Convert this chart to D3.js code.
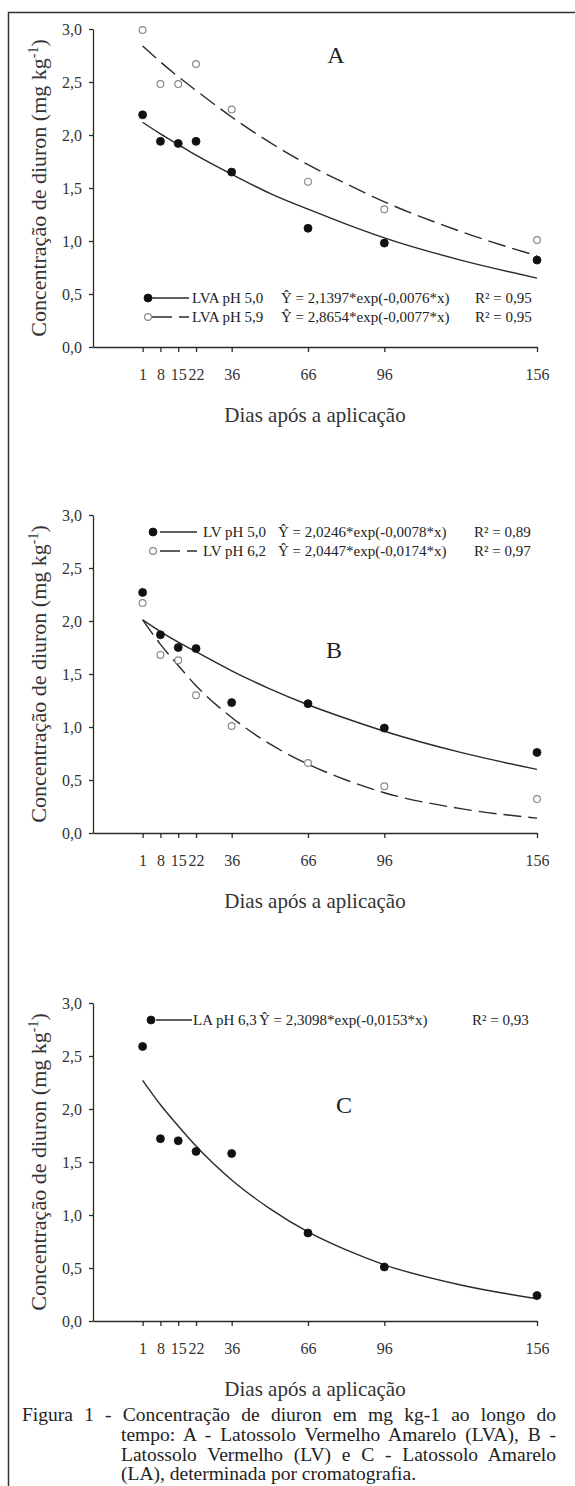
<!DOCTYPE html>
<html>
<head>
<meta charset="utf-8">
<script src="https://cdn.jsdelivr.net/npm/d3@7"></script>
<style>
  body { margin: 0; background: #fff; }
  svg text { font-family: "Liberation Serif", "DejaVu Serif", serif; }
</style>
</head>
<body>
<svg width="575" height="1486"></svg>
<script>
// days of sampling (x ticks)
const days = [1, 8, 15, 22, 36, 66, 96, 156];
const yTicks = [0, 0.5, 1, 1.5, 2, 2.5, 3];

const lvaPh50 = [2.19, 1.94, 1.92, 1.94, 1.65, 1.12, 0.98, 0.82];
const lvaPh59 = [2.99, 2.48, 2.48, 2.67, 2.24, 1.56, 1.30, 1.01];
const lvPh50 = [2.27, 1.87, 1.75, 1.74, 1.23, 1.22, 0.99, 0.76];
const lvPh62 = [2.17, 1.68, 1.63, 1.30, 1.01, 0.66, 0.44, 0.32];
const laPh63 = [2.59, 1.72, 1.70, 1.60, 1.58, 0.83, 0.51, 0.24];

// fitted curves
const fitDays = [1, 8, 15, 22, 36, 51, 66, 81, 96, 126, 156];
const fitLva50 = [2.12, 2.01, 1.91, 1.81, 1.63, 1.45, 1.30, 1.16, 1.03, 0.82, 0.65];
const fitLva59 = [2.84, 2.69, 2.55, 2.42, 2.17, 1.93, 1.72, 1.54, 1.37, 1.09, 0.86];
const fitLv50 = [2.01, 1.90, 1.80, 1.71, 1.53, 1.36, 1.21, 1.08, 0.96, 0.76, 0.60];
const fitLv62 = [2.01, 1.78, 1.58, 1.39, 1.09, 0.84, 0.65, 0.50, 0.38, 0.23, 0.14];
const fitLa63 = [2.27, 2.04, 1.84, 1.65, 1.33, 1.06, 0.84, 0.67, 0.53, 0.34, 0.21];

// legend texts
const legendA = [
  ["LVA pH 5,0", "Ŷ = 2,1397*exp(-0,0076*x)", "R² = 0,95"],
  ["LVA pH 5,9", "Ŷ = 2,8654*exp(-0,0077*x)", "R² = 0,95"]
];
const legendB = [
  ["LV pH 5,0", "Ŷ = 2,0246*exp(-0,0078*x)", "R² = 0,89"],
  ["LV pH 6,2", "Ŷ = 2,0447*exp(-0,0174*x)", "R² = 0,97"]
];
const legendC = [
  ["LA pH 6,3", "Ŷ = 2,3098*exp(-0,0153*x)", "R² = 0,93"]
];

const captionLines = [
  "Figura 1 - Concentração de diuron em mg kg-1 ao longo do",
  "tempo: A - Latossolo Vermelho Amarelo (LVA), B -",
  "Latossolo Vermelho (LV) e C - Latossolo Amarelo",
  "(LA), determinada por cromatografia."
];

const svg = d3.select("svg");
const ink = "#2a2a2a";
const serif = "'Liberation Serif', 'DejaVu Serif', serif";

// frame around the figure (open to the right and bottom, cropped)
svg.append("path")
  .attr("d", "M8.5,1490 V12.5 H580")
  .attr("fill", "none")
  .attr("stroke", "#333")
  .attr("stroke-width", 1.5);

const x = d3.scaleLinear().domain([-18.5, 156]).range([93, 537]);
const plotH = 318;

const panels = [
  {
    top: 29, letter: "A", letterPos: [336, 63],
    series: [
      { obs: lvaPh50, fit: fitLva50, open: false },
      { obs: lvaPh59, fit: fitLva59, open: true }
    ],
    legend: legendA, legendRows: [298, 317],
    legendX: { marker: 148, l1: 152, l2: 189, label: 192, eq: 281, r2: 475 }
  },
  {
    top: 515, letter: "B", letterPos: [334, 658],
    series: [
      { obs: lvPh50, fit: fitLv50, open: false },
      { obs: lvPh62, fit: fitLv62, open: true }
    ],
    legend: legendB, legendRows: [532, 551],
    legendX: { marker: 153, l1: 160, l2: 197, label: 203, eq: 278, r2: 474 }
  },
  {
    top: 1003, letter: "C", letterPos: [344, 1113],
    series: [
      { obs: laPh63, fit: fitLa63, open: false }
    ],
    legend: legendC, legendRows: [1020],
    legendX: { marker: 151, l1: 156, l2: 192, label: 193, eq: 259, r2: 472 }
  }
];

panels.forEach(p => {
  const y = d3.scaleLinear().domain([0, 3]).range([p.top + plotH, p.top]);
  const g = svg.append("g");

  // axes
  const yAxis = d3.axisLeft(y)
    .tickValues(yTicks)
    .tickSize(4)
    .tickSizeOuter(0)
    .tickPadding(7)
    .tickFormat(d => d3.format(".1f")(d).replace(".", ","));
  const xAxis = d3.axisBottom(x)
    .tickValues(days)
    .tickSize(5)
    .tickSizeOuter(0)
    .tickPadding(17);

  g.append("g")
    .attr("transform", `translate(${x.range()[0]},0)`)
    .call(yAxis);
  g.append("g")
    .attr("transform", `translate(0,${p.top + plotH})`)
    .call(xAxis);

  g.selectAll("g").attr("font-family", serif);
  g.selectAll(".domain, .tick line").attr("stroke", ink).attr("stroke-width", 1.3);
  g.selectAll(".tick text")
    .attr("fill", "#333")
    .style("font-family", serif)
    .style("font-size", "16px");

  // axis titles
  g.append("text")
    .attr("x", 315)
    .attr("y", p.top + plotH + 75)
    .attr("text-anchor", "middle")
    .attr("fill", "#333")
    .style("font-family", serif)
    .style("font-size", "21px")
    .text("Dias após a aplicação");

  const yt = g.append("text")
    .attr("transform", `translate(46,${p.top + plotH / 2}) rotate(-90)`)
    .attr("text-anchor", "middle")
    .attr("fill", "#333")
    .style("font-family", serif)
    .style("font-size", "22px");
  yt.append("tspan").text("Concentração de diuron (mg kg");
  yt.append("tspan").attr("dy", -8).style("font-size", "14px").text("-1");
  yt.append("tspan").attr("dy", 8).text(")");

  // panel letter
  g.append("text")
    .attr("x", p.letterPos[0])
    .attr("y", p.letterPos[1])
    .attr("text-anchor", "middle")
    .attr("fill", "#222")
    .style("font-family", serif)
    .style("font-size", "24px")
    .text(p.letter);

  const line = d3.line()
    .x(d => x(d[0]))
    .y(d => y(d[1]))
    .curve(d3.curveMonotoneX);

  p.series.forEach(s => {
    g.append("path")
      .datum(fitDays.map((d, i) => [d, s.fit[i]]))
      .attr("d", line)
      .attr("fill", "none")
      .attr("stroke", ink)
      .attr("stroke-width", 1.4)
      .attr("stroke-dasharray", s.open ? "18,7" : null);

    g.selectAll(null)
      .data(days.map((d, i) => [d, s.obs[i]]))
      .enter()
      .append("circle")
      .attr("cx", d => x(d[0]))
      .attr("cy", d => y(d[1]))
      .attr("r", s.open ? 3.4 : 4)
      .attr("fill", s.open ? "#fff" : "#111")
      .attr("stroke", s.open ? "#8a8a8a" : "#111")
      .attr("stroke-width", s.open ? 1.2 : 0.8);
  });

  // legend
  const lx = p.legendX;
  p.legend.forEach((row, i) => {
    const ry = p.legendRows[i];
    const open = p.series[i].open;
    g.append("line")
      .attr("x1", lx.l1).attr("x2", lx.l2)
      .attr("y1", ry).attr("y2", ry)
      .attr("stroke", ink)
      .attr("stroke-width", 1.3)
      .attr("stroke-dasharray", open ? "20,7,12" : null);
    g.append("circle")
      .attr("cx", lx.marker).attr("cy", ry)
      .attr("r", open ? 3.4 : 4)
      .attr("fill", open ? "#fff" : "#111")
      .attr("stroke", open ? "#8a8a8a" : "#111")
      .attr("stroke-width", open ? 1.2 : 0.8);
    [[lx.label, row[0]], [lx.eq, row[1]], [lx.r2, row[2]]].forEach(([tx, str]) => {
      g.append("text")
        .attr("x", tx)
        .attr("y", ry + 5)
        .attr("fill", "#222")
        .style("font-family", serif)
        .style("font-size", "15px")
        .text(str);
    });
  });
});

// caption, justified like the printed figure
const capX = [22, 121, 121, 121];
const capY = [1421, 1441, 1461, 1480];
const capRight = 556;
captionLines.forEach((str, i) => {
  const t = svg.append("text")
    .attr("x", capX[i])
    .attr("y", capY[i])
    .attr("fill", "#222")
    .style("font-family", serif)
    .style("font-size", "19.5px")
    .text(str);
  if (i < captionLines.length - 1) {
    const natural = t.node().getComputedTextLength();
    const gaps = str.split(" ").length - 1;
    const extra = (capRight - capX[i] - natural) / gaps;
    t.attr("word-spacing", extra);
  }
});
</script>
</body>
</html>
